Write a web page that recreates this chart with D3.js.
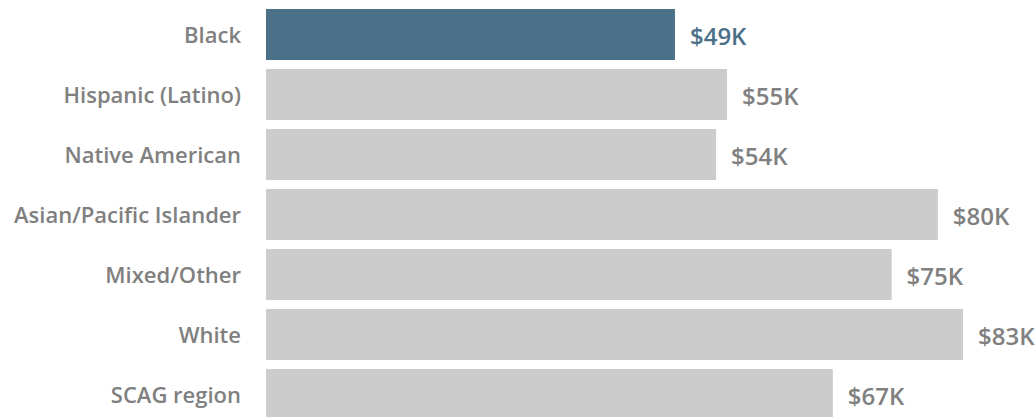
<html>
<head>
<meta charset="utf-8">
<script src="https://cdn.jsdelivr.net/npm/d3@7"></script>
<style>
  body { margin: 0; background: #fff; }
  svg { display: block; }
  text { font-family: "Open Sans", sans-serif; font-weight: 600; }
</style>
</head>
<body>
<script>
    // median household income by race/ethnicity
    const groups = ['Black', 'Hispanic (Latino)', 'Native American', 'Asian/Pacific Islander', 'Mixed/Other', 'White', 'SCAG region']
    const incomes = [48.7, 54.9, 53.6, 80.0, 74.5, 83.0, 67.5]
    const valueLabels = ['$49K', '$55K', '$54K', '$80K', '$75K', '$83K', '$67K']
    const highlight = 'Black'

    const width = 1035, height = 417

    const svg = d3.select('body').append('svg')
        .attr('width', width)
        .attr('height', height)

    const x = d3.scaleLinear()
        .domain([0, 83])
        .range([266, 963])

    const y = d3.scaleBand()
        .domain(groups)
        .range([4.5, 424.5])
        .paddingInner(0.15)
        .paddingOuter(0.075)

    const rows = groups.map((g, i) => ({ name: g, value: incomes[i], label: valueLabels[i] }))

    const rowsG = svg.selectAll('.row')
        .data(rows)
        .enter().append('g')
        .attr('class', 'row')

    rowsG.append('rect')
        .attr('x', x(0))
        .attr('y', d => y(d.name))
        .attr('width', d => x(d.value) - x(0))
        .attr('height', y.bandwidth())
        .attr('fill', d => d.name === highlight ? '#4b7189' : '#cccccc')

    // category names, right aligned next to the bars
    rowsG.append('text')
        .attr('x', 241)
        .attr('y', d => y(d.name) + y.bandwidth() / 2 + 8)
        .attr('text-anchor', 'end')
        .attr('font-size', 22)
        .attr('fill', '#808080')
        .text(d => d.name)

    // value labels at bar ends
    rowsG.append('text')
        .attr('x', d => x(d.value) + 15)
        .attr('y', d => y(d.name) + y.bandwidth() / 2 + 10.5)
        .attr('font-size', 24)
        .attr('fill', d => d.name === highlight ? '#4b7189' : '#808080')
        .text(d => d.label)
</script>
</body>
</html>
